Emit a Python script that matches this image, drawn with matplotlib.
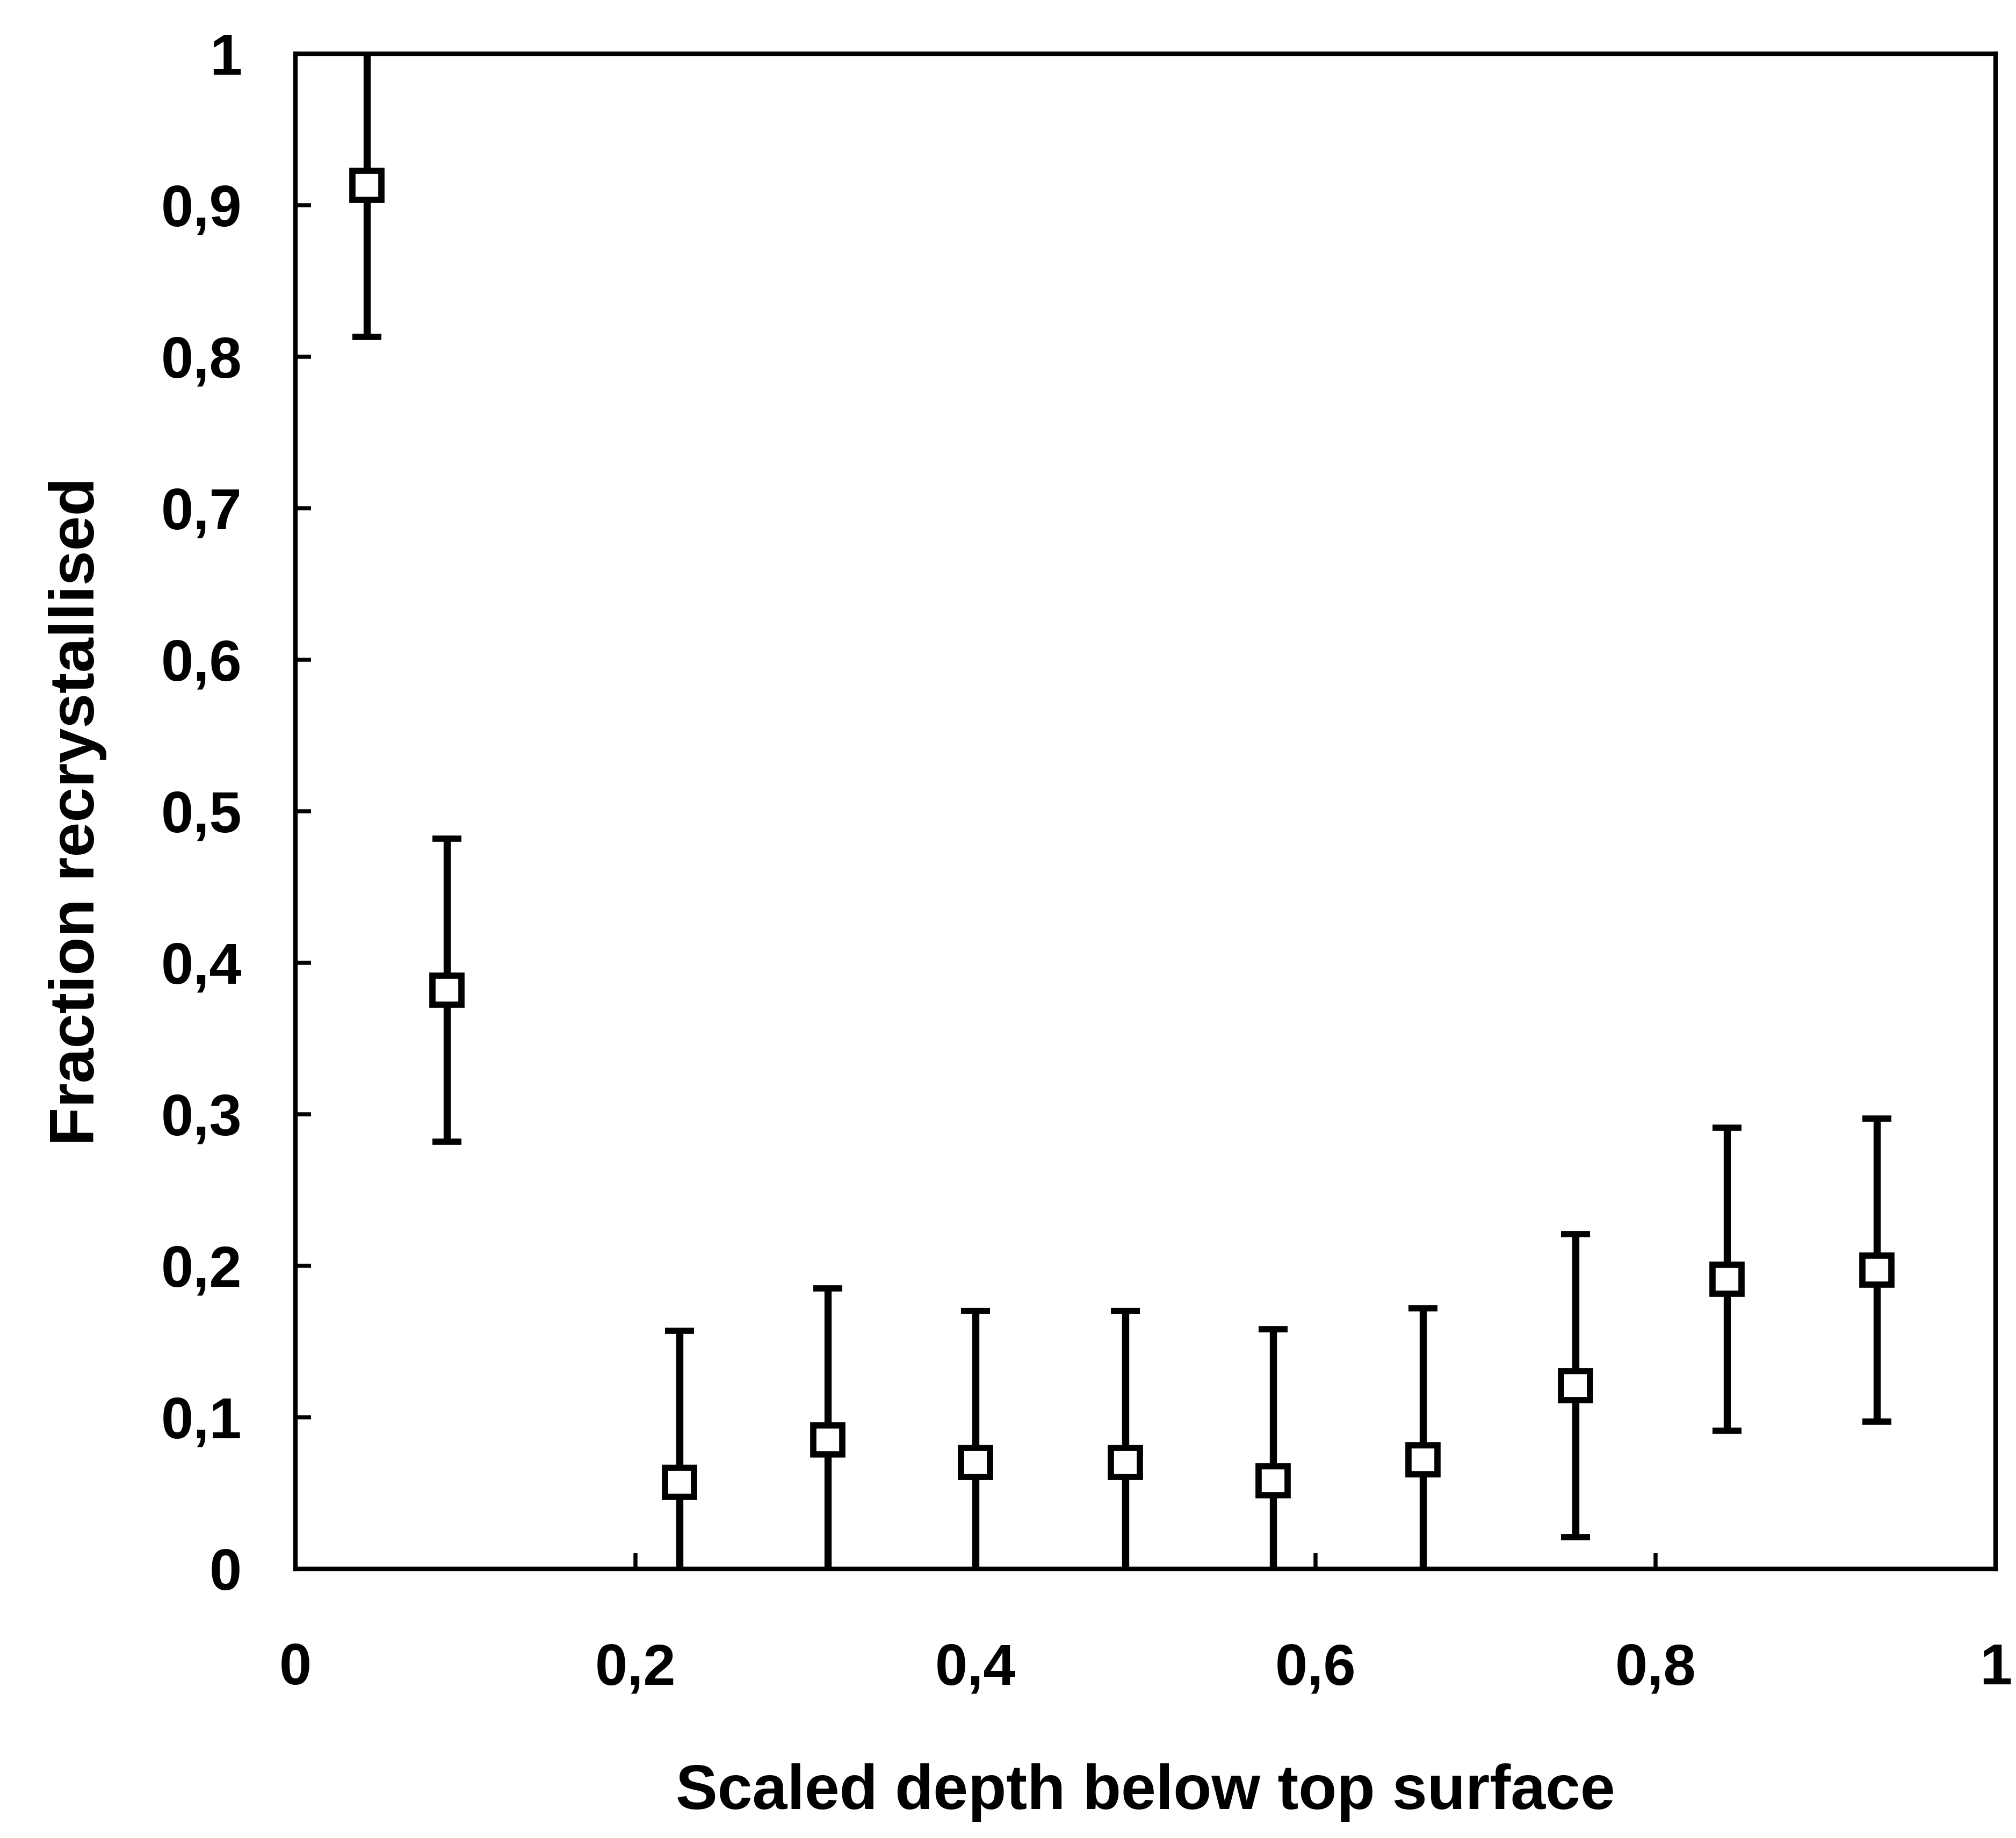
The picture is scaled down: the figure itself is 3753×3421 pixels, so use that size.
import numpy as np
import matplotlib
matplotlib.use('Agg')
import matplotlib.pyplot as plt

plt.rcParams['font.family'] = ['Liberation Sans', 'DejaVu Sans']
plt.rcParams['font.weight'] = 'bold'

depth = [0.042, 0.089, 0.226, 0.313, 0.400, 0.488, 0.575, 0.663, 0.753, 0.842, 0.930]
fraction = [0.913, 0.382, 0.057, 0.085, 0.070, 0.070, 0.058, 0.072, 0.121, 0.191, 0.197]
err = [0.1, 0.1, 0.1, 0.1, 0.1, 0.1, 0.1, 0.1, 0.1, 0.1, 0.1]

xticks = [0, 0.2, 0.4, 0.6, 0.8, 1.0]
xticklabels = ['0', '0,2', '0,4', '0,6', '0,8', '1']
yticks = [0, 0.1, 0.2, 0.3, 0.4, 0.5, 0.6, 0.7, 0.8, 0.9, 1.0]
yticklabels = ['0', '0,1', '0,2', '0,3', '0,4', '0,5', '0,6', '0,7', '0,8', '0,9', '1']

fig = plt.figure(figsize=(3753 / 300, 3421 / 300), dpi=300)
ax = fig.add_axes([0.1466, 0.1465, 0.8433, 0.8243])

ax.errorbar(depth, fraction, yerr=err, fmt='s', color='black',
            markerfacecolor='white', markeredgecolor='black',
            markersize=13, markeredgewidth=2.8,
            elinewidth=3.2, capsize=6.5, capthick=2.6, zorder=3)

ax.set_xlim(0, 1)
ax.set_ylim(0, 1)
ax.set_xticks(xticks)
ax.set_xticklabels(xticklabels)
ax.set_yticks(yticks)
ax.set_yticklabels(yticklabels)

ax.tick_params(axis='both', direction='in', length=7, width=1.8, labelsize=26)
ax.tick_params(axis='x', pad=33)
ax.tick_params(axis='y', pad=24)
for s in ax.spines.values():
    s.set_linewidth(2.0)

ax.set_xlabel('Scaled depth below top surface', fontsize=28, fontweight='bold', labelpad=30)
ax.set_ylabel('Fraction recrystallised', fontsize=28, fontweight='bold', labelpad=24)

fig.savefig('out.png', dpi=300)
